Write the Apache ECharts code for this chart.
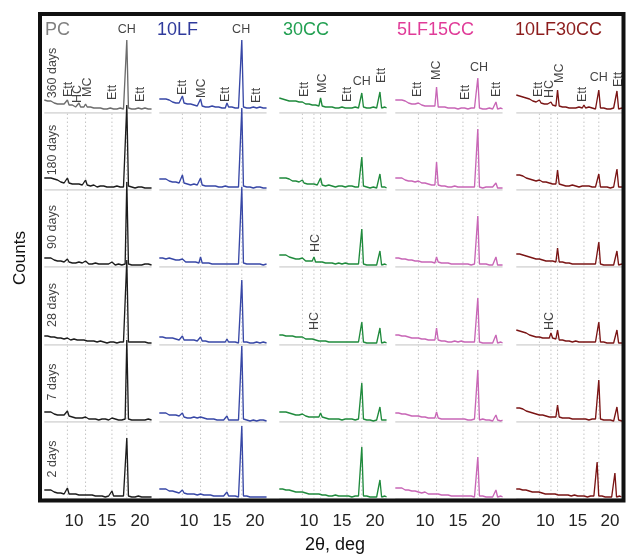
<!DOCTYPE html>
<html>
<head>
<meta charset="utf-8">
<script src="https://cdn.jsdelivr.net/npm/echarts@6/dist/echarts.min.js"></script>
<style>
  html, body { margin: 0; padding: 0; background: #fff; }
  #chart { width: 626px; height: 557px; }
</style>
</head>
<body>
<div id="chart"></div>
<script>
// 2θ sampling of every scan (deg)
const twoTheta = [5.5,5.75,6,6.25,6.5,6.75,7,7.25,7.5,7.75,8,8.25,8.5,8.75,9,9.25,9.5,9.75,10,10.25,10.5,10.75,11,11.25,11.5,11.75,12,12.25,12.5,12.75,13,13.25,13.5,13.75,14,14.25,14.5,14.75,15,15.25,15.5,15.75,16,16.25,16.5,16.75,17,17.25,17.5,17.75,18,18.25,18.5,18.75,19,19.25,19.5,19.75,20,20.25,20.5,20.75,21,21.25,21.5,21.75];

const mixes = ['PC', '10LF', '30CC', '5LF15CC', '10LF30CC'];
const ages = ['360 days', '180 days', '90 days', '28 days', '7 days', '2 days'];
const tickLabels = [10, 15, 20];

// Intensities (relative counts above each trace's baseline), one row per curing age: 360, 180, 90, 28, 7, 2 days
const scansPC = [
  [13,14,12,13,12,11,10,11,9,10,9, 8,9,8,13,8,7,8,7,6,7,10, 6,7,6,9,6,5,6,5,5,4,5, 4,5,4,4,5,4,4,5,7,4,5, 4,4,5,4,4,5,73,5,4,4,5, 4,4,5,6,4,4,5,4,4,3,4],
  [12,13,12,11,12,10,11,9,10,9,8, 8,7,7,12,7,6,6,7,6,5,6, 6,5,5,10,5,5,4,4,5,4,3, 4,4,3,4,3,3,4,3,5,3,3, 4,3,3,4,3,4,85,4,3,3,3, 2,3,3,4,3,3,2,3,2,3,2],
  [9,10,9,8,9,8,7,7,6,7,6, 6,5,6,8,5,5,4,5,4,4,5, 4,4,4,6,4,3,4,3,3,4,3, 3,3,3,2,3,3,3,3,5,3,2, 3,3,3,2,3,3,85,3,3,2,3, 2,3,2,3,2,2,3,2,3,2,2],
  [9,10,9,9,8,8,8,7,7,6,7, 6,6,6,7,5,5,5,6,5,5,6, 5,5,5,6,4,4,4,3,4,3,3, 3,4,3,3,3,2,3,3,4,3,3, 2,3,3,2,3,3,85,3,3,3,2, 3,2,3,2,3,2,3,2,2,3,2],
  [10,11,10,9,10,9,8,8,7,8,7, 6,7,6,11,6,5,5,5,4,5,4, 4,4,4,5,4,3,4,3,3,3,3, 2,3,3,2,3,3,2,3,4,2,3, 2,2,3,2,2,3,82,3,2,2,3, 2,2,2,3,2,2,2,2,3,2,2],
  [9,10,9,8,9,8,7,7,6,7,6, 6,5,6,11,5,5,5,4,5,4,4, 5,4,4,4,5,4,3,4,3,3,4, 3,3,3,3,2,3,3,3,8,3,2, 3,2,3,2,3,3,61,3,2,2,3, 2,2,3,2,2,3,2,2,2,3,2]
];
const scans10LF = [
  [14,15,14,13,14,12,13,12,11,12,10, 11,10,10,17,10,9,9,8,9,8,8, 8,7,8,14,7,7,6,7,6,6,7, 6,6,5,6,6,5,6,5,10,6,5, 6,5,5,6,5,6,73,6,5,5,6, 5,5,6,7,5,5,6,5,5,4,5],
  [11,12,11,10,11,10,9,9,8,9,8, 8,7,7,15,7,6,6,6,5,6,6, 5,5,5,12,5,4,4,4,4,3,4, 3,4,3,3,4,3,3,4,6,3,3, 3,4,3,3,3,4,82,4,3,3,2, 3,3,2,3,3,2,3,3,2,3,2],
  [9,10,9,9,8,8,9,7,8,7,7, 6,7,6,8,6,5,6,5,5,5,5, 5,5,4,10,4,4,4,3,4,3,3, 4,3,3,3,4,3,3,3,5,3,3, 3,4,3,3,3,4,80,4,3,3,3, 3,2,3,3,3,2,3,3,2,3,3],
  [8,9,8,8,7,8,7,6,7,6,6, 6,5,6,9,5,5,5,4,5,4,5, 4,4,4,8,4,3,4,3,3,3,3, 3,3,2,3,3,3,2,3,6,3,2, 3,2,3,3,2,3,65,3,2,3,2, 2,3,2,2,3,2,2,2,3,2,2],
  [9,10,9,8,9,8,7,8,7,6,7, 6,6,5,9,5,5,4,5,4,4,5, 4,4,4,5,3,4,3,3,3,3,2, 3,3,2,3,2,3,2,2,6,2,2, 2,3,2,2,2,3,76,3,2,2,2, 1,2,2,2,1,2,2,1,2,2,1],
  [10,11,10,9,10,9,8,8,8,7,7, 7,6,7,9,6,6,5,5,5,5,5, 5,4,5,5,6,4,4,4,3,4,3, 3,4,3,3,3,3,3,3,7,3,3, 3,2,3,3,2,3,73,3,2,3,2, 2,3,2,2,2,3,2,2,2,3,2]
];
const scans30CC = [
  [15,16,14,15,13,14,12,13,12,11,12, 10,11,10,11,9,9,8,9,8,8,8, 8,7,7,15,7,6,6,7,6,5,6, 6,5,6,5,5,6,5,5,7,5,6, 5,5,6,5,5,6,20,6,5,5,6, 5,5,6,5,5,6,21,5,5,6,5],
  [12,13,12,11,12,10,11,10,9,10,9, 8,8,8,10,7,7,6,7,6,6,6, 6,5,6,12,5,5,4,4,5,4,4, 4,3,4,4,3,4,3,3,4,4,3, 4,3,3,4,3,4,33,4,3,3,3, 2,3,3,3,2,3,16,3,2,3,2],
  [12,13,12,11,12,11,10,10,9,10,8, 9,8,7,9,7,6,7,6,6,6,10, 5,5,5,6,5,4,4,4,4,3,4, 4,3,3,4,3,3,3,4,4,3,3, 3,4,3,3,3,3,38,3,3,2,3, 2,3,2,3,2,2,16,2,2,3,2],
  [10,11,10,10,9,10,9,8,9,8,8, 7,8,7,8,7,6,6,6,6,6,8, 5,5,4,5,4,4,4,4,3,4,3, 4,3,3,3,4,3,3,3,3,3,3, 3,3,3,2,3,3,23,3,3,2,3, 2,3,2,3,2,3,17,2,2,3,2],
  [10,11,10,9,10,9,9,8,8,8,7, 8,7,7,8,6,6,6,5,6,5,6, 5,5,5,9,5,4,4,4,3,4,3, 3,3,3,3,3,2,3,3,3,3,2, 3,3,2,3,3,3,39,3,2,2,2, 2,2,1,2,2,2,15,2,1,2,2],
  [10,11,10,10,9,10,9,8,8,8,7, 7,7,6,7,6,6,6,5,5,5,6, 5,5,5,6,4,4,4,4,3,4,3, 3,4,3,3,3,3,3,3,4,3,3, 2,3,3,2,3,3,52,3,2,3,2, 2,3,2,2,2,3,19,2,2,3,2]
];
const scans5LF15CC = [
  [13,14,13,12,13,11,12,11,10,10,9, 10,9,8,10,8,8,8,7,7,7,7, 7,6,7,26,6,6,6,5,6,5,5, 6,5,5,5,5,4,5,5,6,5,5, 4,5,5,4,5,5,35,5,4,4,5, 4,4,5,4,4,5,11,4,4,5,4],
  [12,13,12,11,12,11,10,10,9,9,9, 8,8,8,9,7,7,6,7,6,6,6, 5,6,5,28,5,5,4,4,4,4,3, 4,3,3,4,3,3,3,3,4,3,3, 3,3,3,3,3,3,61,3,3,2,3, 3,2,3,2,3,2,7,2,3,2,2],
  [9,10,9,9,8,9,8,8,7,7,7, 6,6,6,6,6,5,5,5,5,5,5, 5,5,4,10,5,4,4,4,4,3,4, 3,3,3,3,3,3,3,3,4,3,3, 3,3,2,3,3,3,51,3,2,3,2, 3,2,2,3,2,2,10,2,3,2,2],
  [10,11,10,10,9,9,9,8,8,8,7, 7,7,6,7,6,6,6,6,5,5,5, 5,5,5,17,5,4,4,4,4,4,3, 4,3,3,4,3,3,3,4,5,3,3, 3,3,3,3,3,3,47,3,3,2,3, 2,3,2,3,2,2,10,2,2,3,2],
  [9,10,9,9,8,8,8,7,7,7,6, 6,6,6,6,5,5,5,5,5,4,5, 4,5,4,10,4,4,3,4,3,3,3, 3,3,3,3,2,3,3,3,2,3,3, 2,3,2,2,3,2,52,2,2,3,2, 2,2,2,2,1,2,7,2,2,1,2],
  [11,12,11,10,11,10,9,9,9,8,8, 7,8,7,7,6,6,6,7,6,5,5, 5,5,5,6,5,4,4,4,4,3,4, 3,3,4,3,3,3,3,3,4,3,3, 3,2,3,3,2,3,42,3,2,3,2, 2,3,2,2,2,3,9,2,2,3,2]
];
const scans10LF30CC = [
  [18,19,17,18,16,16,15,14,14,13,12, 12,11,11,13,10,10,9,9,9,8,11, 8,8,7,23,7,7,6,6,6,6,5, 6,5,6,5,5,6,5,5,8,5,5, 6,5,5,5,4,5,23,5,4,5,4, 4,5,4,4,5,4,22,4,4,5,4],
  [15,16,15,14,14,13,12,12,11,11,10, 10,9,9,10,8,8,7,8,7,7,9, 6,7,6,20,6,5,5,5,4,5,4, 4,5,4,4,4,3,4,4,5,4,3, 4,3,3,4,3,3,16,3,3,3,2, 3,3,2,3,3,2,21,3,2,3,2],
  [13,14,13,12,12,11,11,10,10,9,9, 8,8,8,8,7,7,7,6,6,6,7, 6,6,5,19,5,5,5,4,4,4,4, 4,3,4,3,4,3,3,3,4,3,3, 3,3,3,3,3,3,25,3,3,2,3, 2,3,2,3,2,2,16,2,2,3,2],
  [15,16,14,14,13,12,12,11,10,10,9, 9,8,7,8,7,7,6,7,6,7,12, 7,6,6,15,5,5,5,4,4,4,4, 4,3,4,4,3,3,4,3,4,3,3, 3,3,3,3,3,3,23,3,2,3,3, 2,3,2,3,2,2,15,2,3,2,2],
  [14,15,14,13,13,12,11,11,10,10,9, 9,8,8,7,7,7,6,6,6,5,6, 5,5,5,17,5,4,4,4,4,3,4, 3,3,3,3,3,3,3,3,3,3,3, 2,3,3,2,3,3,42,3,2,2,2, 2,2,2,2,1,2,15,2,2,1,2],
  [10,11,10,10,9,9,9,8,8,8,7, 7,7,6,7,6,6,6,5,6,5,5, 5,5,5,6,4,5,4,4,4,3,4, 3,3,3,4,3,3,3,3,4,3,3, 2,3,3,2,3,3,37,3,2,3,2, 2,3,2,2,2,3,26,2,2,3,2]
];
const scans = [scansPC, scans10LF, scans30CC, scans5LF15CC, scans10LF30CC];

// Reference reflections (2θ) marked by dotted guides in each column
const guidesPC = [9, 11.75, 15.75, 18];
const guides10LF = [9, 11.75, 15.75, 18];
const guides30CC = [9, 10.75, 11.75, 15.75, 18];
const guides5LF15CC = [9, 11.75, 15.75, 18];
const guides10LF30CC = [9, 10.75, 11.75, 15.75, 18];
const guides = [guidesPC, guides10LF, guides30CC, guides5LF15CC, guides10LF30CC];

// Phase tags on the 360-day traces: [phase, 2θ, height where the tag starts]
const tagsPC = [['Ett', 9.1, 16], ['HC', 10.6, 10], ['MC', 12.0, 16], ['Ett', 15.8, 13], ['Ett', 20.1, 11]];
const tags10LF = [['Ett', 9.0, 18], ['MC', 11.9, 15], ['Ett', 15.5, 11], ['Ett', 20.2, 10]];
const tags30CC = [['Ett', 9.4, 16], ['MC', 12.0, 20], ['Ett', 15.8, 11], ['Ett', 21.0, 30]];
const tags5LF15CC = [['Ett', 8.9, 16], ['MC', 11.8, 33], ['Ett', 16.1, 13], ['Ett', 20.9, 16]];
const tags10LF30CC = [['Ett', 8.9, 16], ['HC', 10.6, 15], ['MC', 12.1, 30], ['Ett', 15.5, 11], ['Ett', 21.0, 26]];
const tags = [tagsPC, tags10LF, tags30CC, tags5LF15CC, tags10LF30CC];
// Portlandite tag (horizontal) per column: [2θ, height of its centre]
const chTags = [[18.0, 83], [17.9, 83], [18.0, 31], [18.2, 45], [18.0, 35]];
// Hemicarbonate tags on younger traces: [column, row, 2θ, height]
const hcTags = [[2, 2, 11.0, 15], [2, 3, 10.8, 15], [4, 3, 10.5, 15]];

// ---- layout & styling ----
const FONT = '"Liberation Sans", Arial, Helvetica, sans-serif';
const colAt10 = [74, 189, 309, 425, 546];   // pixel x of 2θ = 10° in each column
const pxPerDeg = 6.6;
const X_MIN = 5, X_MAX = 22;
const rowBase = [113, 190, 267, 345, 422, 499];
const PANEL_H = 110;
const lineColors = ['#1c1c1c', '#3747a6', '#1f8a3c', '#c866b6', '#7a1414'];
const titleColors = ['#808080', '#2f3a9c', '#22a052', '#e03b98', '#8c1c1c'];
const titleLeft = [45, 157, 283, 397, 515];

scans.forEach((set, c) => set.forEach((row, r) => {
  if (row.length !== twoTheta.length) throw new Error('scan ' + mixes[c] + ' ' + ages[r] + ' has ' + row.length + ' points');
}));

const grid = [], xAxis = [], yAxis = [], series = [];

function addGrid(c, top, height, ymax, bottomAxis) {
  const idx = grid.length;
  grid.push({ left: colAt10[c] - (10 - X_MIN) * pxPerDeg, width: (X_MAX - X_MIN) * pxPerDeg, top: top, height: height });
  xAxis.push({
    type: 'value', gridIndex: idx, min: X_MIN, max: X_MAX, interval: 5,
    show: !!bottomAxis,
    axisLine: { show: false }, axisTick: { show: false }, splitLine: { show: false },
    axisLabel: {
      show: !!bottomAxis, margin: 14, color: '#222', fontSize: 17, fontFamily: FONT,
      formatter: v => tickLabels.indexOf(v) >= 0 ? String(v) : ''
    }
  });
  yAxis.push({ type: 'value', gridIndex: idx, min: 0, max: ymax, show: false, splitLine: { show: false } });
  return idx;
}

const transparent = { color: 'rgba(0,0,0,0)' };
function tagSeries(gi, items, rotated) {
  return {
    type: 'scatter', xAxisIndex: gi, yAxisIndex: gi, symbolSize: 1, itemStyle: transparent,
    silent: true, z: 6,
    data: items.map(t => ({ name: t[0], value: [t[1], t[2]] })),
    label: rotated ? {
      show: true, position: 'inside', formatter: '{b}', rotate: 90, align: 'left', verticalAlign: 'middle',
      fontSize: 12.5, fontFamily: FONT, color: '#111'
    } : {
      show: true, position: 'inside', formatter: '{b}', align: 'center', verticalAlign: 'middle',
      fontSize: 12.5, fontFamily: FONT, color: '#111'
    }
  };
}

// dotted reflection guides, one tall grid per column
mixes.forEach((m, c) => {
  const gi = addGrid(c, rowBase[0], rowBase[5] - rowBase[0], 1, false);
  guides[c].forEach(g => series.push({
    type: 'line', xAxisIndex: gi, yAxisIndex: gi, silent: true, symbol: 'none', z: 1,
    data: [[g, 0], [g, 1]],
    lineStyle: { color: '#c4c4c4', width: 1, type: [1.5, 2.5] }
  }));
});

// traces
mixes.forEach((m, c) => {
  ages.forEach((age, r) => {
    const gi = addGrid(c, rowBase[r] - PANEL_H, PANEL_H, PANEL_H, r === ages.length - 1);
    series.push({
      type: 'line', xAxisIndex: gi, yAxisIndex: gi, silent: true, symbol: 'none', z: 2,
      data: [[twoTheta[0], 0], [twoTheta[twoTheta.length - 1], 0]],
      lineStyle: { color: '#d0d0d0', width: 1.6 }
    });
    const color = (c === 0 && r === 0) ? '#6c6c6c' : lineColors[c];
    series.push({
      type: 'line', name: m + ' ' + age, xAxisIndex: gi, yAxisIndex: gi, silent: true, symbol: 'none', z: 3,
      data: twoTheta.map((t, i) => [t, scans[c][r][i]]),
      lineStyle: { color: color, width: 1.35 }
    });
    if (c === 0) {
      series.push({
        type: 'scatter', xAxisIndex: gi, yAxisIndex: gi, symbolSize: 1, itemStyle: transparent, silent: true, z: 6,
        data: [{ name: age, value: [6.8, 40] }],
        label: { show: true, position: 'inside', formatter: '{b}', rotate: 90, align: 'center', verticalAlign: 'middle',
                 fontSize: 12.5, fontFamily: FONT, color: '#111' }
      });
    }
    if (r === 0) {
      series.push(tagSeries(gi, tags[c], true));
      series.push(tagSeries(gi, [['CH', chTags[c][0], chTags[c][1]]], false));
    }
    hcTags.filter(h => h[0] === c && h[1] === r).forEach(h => {
      series.push(tagSeries(gi, [['HC', h[2], h[3]]], true));
    });
  });
});

const graphic = [
  { type: 'rect', z: 100, shape: { x: 40, y: 14, width: 583.5, height: 486.5 },
    style: { fill: 'none', stroke: '#111', lineWidth: 4 } },
  { type: 'text', z: 100, x: 20, y: 258, rotation: Math.PI / 2,
    style: { text: 'Counts', fontSize: 17, fontFamily: FONT, fill: '#111', align: 'center', verticalAlign: 'middle' } },
  { type: 'text', z: 100, x: 335, y: 545,
    style: { text: '2θ, deg', fontSize: 18, fontFamily: FONT, fill: '#111', align: 'center', verticalAlign: 'middle' } }
];
mixes.forEach((m, c) => graphic.push({
  type: 'text', z: 100, x: titleLeft[c], y: 30,
  style: { text: m, fontSize: 18, fontFamily: FONT, fill: titleColors[c], align: 'left', verticalAlign: 'middle' }
}));

const chart = echarts.init(document.getElementById('chart'));
chart.setOption({
  animation: false,
  backgroundColor: '#fff',
  grid: grid, xAxis: xAxis, yAxis: yAxis, series: series, graphic: graphic
});
</script>
</body>
</html>
